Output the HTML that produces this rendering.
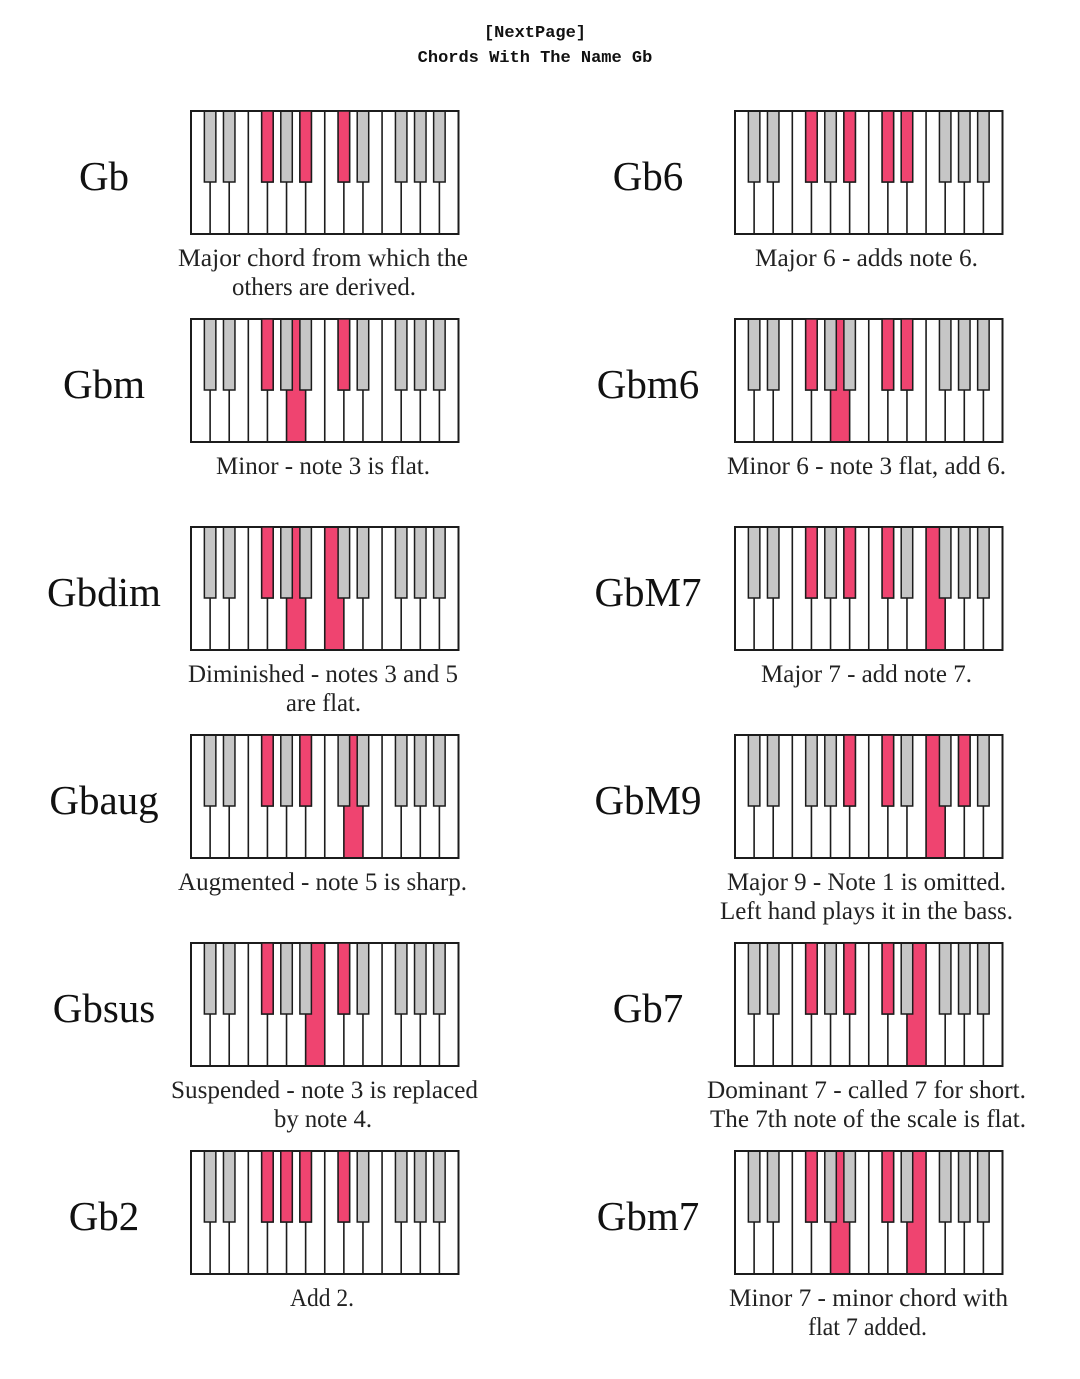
<!DOCTYPE html>
<html><head><meta charset="utf-8"><style>
html,body{margin:0;padding:0;background:#fff;}
svg{display:block;}
.t{font-family:"Liberation Mono",monospace;font-size:17px;fill:#111;font-weight:bold;}
.n{font-family:"Liberation Serif",serif;font-size:41px;fill:#111;}
.d{font-family:"Liberation Serif",serif;font-size:25px;fill:#222;}
</style></head><body>
<svg width="1080" height="1379" viewBox="0 0 1080 1379" xmlns="http://www.w3.org/2000/svg">
<defs>
<g id="kb">
<g stroke="#1c1c1c" stroke-width="1.6">
<line x1="19.11" y1="0" x2="19.11" y2="123"/><line x1="38.21" y1="0" x2="38.21" y2="123"/>
<line x1="57.32" y1="0" x2="57.32" y2="123"/><line x1="76.43" y1="0" x2="76.43" y2="123"/>
<line x1="95.54" y1="0" x2="95.54" y2="123"/><line x1="114.64" y1="0" x2="114.64" y2="123"/>
<line x1="133.75" y1="0" x2="133.75" y2="123"/><line x1="152.86" y1="0" x2="152.86" y2="123"/>
<line x1="171.96" y1="0" x2="171.96" y2="123"/><line x1="191.07" y1="0" x2="191.07" y2="123"/>
<line x1="210.18" y1="0" x2="210.18" y2="123"/><line x1="229.29" y1="0" x2="229.29" y2="123"/>
<line x1="248.39" y1="0" x2="248.39" y2="123"/>
</g>
<g fill="#c6c6c6" stroke="#1c1c1c" stroke-width="1.5">
<rect x="13.36" y="0" width="11.5" height="71"/><rect x="32.46" y="0" width="11.5" height="71"/>
<rect x="70.68" y="0" width="11.5" height="71"/><rect x="89.79" y="0" width="11.5" height="71"/>
<rect x="108.89" y="0" width="11.5" height="71"/><rect x="147.11" y="0" width="11.5" height="71"/>
<rect x="166.21" y="0" width="11.5" height="71"/><rect x="204.43" y="0" width="11.5" height="71"/>
<rect x="223.54" y="0" width="11.5" height="71"/><rect x="242.64" y="0" width="11.5" height="71"/>
</g>
<rect x="0" y="0" width="267.5" height="123" fill="none" stroke="#1c1c1c" stroke-width="2"/>
</g>
<rect id="w5" x="95.54" y="0" width="19.1" height="123"/>
<rect id="w6" x="114.64" y="0" width="19.1" height="123"/>
<rect id="w7" x="133.75" y="0" width="19.1" height="123"/>
<rect id="w8" x="152.86" y="0" width="19.1" height="123"/>
<rect id="w9" x="171.96" y="0" width="19.1" height="123"/>
<rect id="w10" x="191.07" y="0" width="19.1" height="123"/>
<rect id="b4" x="70.68" y="0" width="11.5" height="71"/>
<rect id="b5" x="89.79" y="0" width="11.5" height="71"/>
<rect id="b6" x="108.89" y="0" width="11.5" height="71"/>
<rect id="b8" x="147.11" y="0" width="11.5" height="71"/>
<rect id="b9" x="166.21" y="0" width="11.5" height="71"/>
<rect id="b12" x="223.54" y="0" width="11.5" height="71"/>
</defs>

<text class="t" x="535" y="37" text-anchor="middle">[NextPage]</text>
<text class="t" x="535" y="62" text-anchor="middle">Chords With The Name Gb</text>

<!-- LEFT COLUMN -->
<g transform="translate(191,111)">
<rect width="267.5" height="123" fill="#fff"/>
<use href="#kb"/>
<g fill="#ef4470" stroke="#1c1c1c" stroke-width="1.5"><use href="#b4"/><use href="#b6"/><use href="#b8"/></g>
</g>
<text class="n" x="104" y="190" text-anchor="middle">Gb</text>
<text class="d" x="178" y="266" textLength="290" lengthAdjust="spacingAndGlyphs">Major chord from which the</text>
<text class="d" x="232" y="295" textLength="184" lengthAdjust="spacingAndGlyphs">others are derived.</text>

<g transform="translate(191,319)">
<rect width="267.5" height="123" fill="#fff"/>
<g fill="#ef4470"><use href="#w5"/></g>
<use href="#kb"/>
<g fill="#ef4470" stroke="#1c1c1c" stroke-width="1.5"><use href="#b4"/><use href="#b8"/></g>
</g>
<text class="n" x="104" y="398" text-anchor="middle">Gbm</text>
<text class="d" x="216" y="474" textLength="214" lengthAdjust="spacingAndGlyphs">Minor - note 3 is flat.</text>

<g transform="translate(191,527)">
<rect width="267.5" height="123" fill="#fff"/>
<g fill="#ef4470"><use href="#w5"/><use href="#w7"/></g>
<use href="#kb"/>
<g fill="#ef4470" stroke="#1c1c1c" stroke-width="1.5"><use href="#b4"/></g>
</g>
<text class="n" x="104" y="606" text-anchor="middle">Gbdim</text>
<text class="d" x="188" y="682" textLength="270" lengthAdjust="spacingAndGlyphs">Diminished - notes 3 and 5</text>
<text class="d" x="286" y="711" textLength="75" lengthAdjust="spacingAndGlyphs">are flat.</text>

<g transform="translate(191,735)">
<rect width="267.5" height="123" fill="#fff"/>
<g fill="#ef4470"><use href="#w8"/></g>
<use href="#kb"/>
<g fill="#ef4470" stroke="#1c1c1c" stroke-width="1.5"><use href="#b4"/><use href="#b6"/></g>
</g>
<text class="n" x="104" y="814" text-anchor="middle">Gbaug</text>
<text class="d" x="178" y="890" textLength="289" lengthAdjust="spacingAndGlyphs">Augmented - note 5 is sharp.</text>

<g transform="translate(191,943)">
<rect width="267.5" height="123" fill="#fff"/>
<g fill="#ef4470"><use href="#w6"/></g>
<use href="#kb"/>
<g fill="#ef4470" stroke="#1c1c1c" stroke-width="1.5"><use href="#b4"/><use href="#b8"/></g>
</g>
<text class="n" x="104" y="1022" text-anchor="middle">Gbsus</text>
<text class="d" x="171" y="1098" textLength="307" lengthAdjust="spacingAndGlyphs">Suspended - note 3 is replaced</text>
<text class="d" x="274" y="1127" textLength="98" lengthAdjust="spacingAndGlyphs">by note 4.</text>

<g transform="translate(191,1151)">
<rect width="267.5" height="123" fill="#fff"/>
<use href="#kb"/>
<g fill="#ef4470" stroke="#1c1c1c" stroke-width="1.5"><use href="#b4"/><use href="#b5"/><use href="#b6"/><use href="#b8"/></g>
</g>
<text class="n" x="104" y="1230" text-anchor="middle">Gb2</text>
<text class="d" x="290" y="1306" textLength="64" lengthAdjust="spacingAndGlyphs">Add 2.</text>

<!-- RIGHT COLUMN -->
<g transform="translate(735,111)">
<rect width="267.5" height="123" fill="#fff"/>
<use href="#kb"/>
<g fill="#ef4470" stroke="#1c1c1c" stroke-width="1.5"><use href="#b4"/><use href="#b6"/><use href="#b8"/><use href="#b9"/></g>
</g>
<text class="n" x="648" y="190" text-anchor="middle">Gb6</text>
<text class="d" x="755" y="266" textLength="223" lengthAdjust="spacingAndGlyphs">Major 6 - adds note 6.</text>

<g transform="translate(735,319)">
<rect width="267.5" height="123" fill="#fff"/>
<g fill="#ef4470"><use href="#w5"/></g>
<use href="#kb"/>
<g fill="#ef4470" stroke="#1c1c1c" stroke-width="1.5"><use href="#b4"/><use href="#b8"/><use href="#b9"/></g>
</g>
<text class="n" x="648" y="398" text-anchor="middle">Gbm6</text>
<text class="d" x="727" y="474" textLength="279" lengthAdjust="spacingAndGlyphs">Minor 6 - note 3 flat, add 6.</text>

<g transform="translate(735,527)">
<rect width="267.5" height="123" fill="#fff"/>
<g fill="#ef4470"><use href="#w10"/></g>
<use href="#kb"/>
<g fill="#ef4470" stroke="#1c1c1c" stroke-width="1.5"><use href="#b4"/><use href="#b6"/><use href="#b8"/></g>
</g>
<text class="n" x="648" y="606" text-anchor="middle">GbM7</text>
<text class="d" x="761" y="682" textLength="211" lengthAdjust="spacingAndGlyphs">Major 7 - add note 7.</text>

<g transform="translate(735,735)">
<rect width="267.5" height="123" fill="#fff"/>
<g fill="#ef4470"><use href="#w10"/></g>
<use href="#kb"/>
<g fill="#ef4470" stroke="#1c1c1c" stroke-width="1.5"><use href="#b6"/><use href="#b8"/><use href="#b12"/></g>
</g>
<text class="n" x="648" y="814" text-anchor="middle">GbM9</text>
<text class="d" x="727" y="890" textLength="279" lengthAdjust="spacingAndGlyphs">Major 9 - Note 1 is omitted.</text>
<text class="d" x="720" y="919" textLength="293" lengthAdjust="spacingAndGlyphs">Left hand plays it in the bass.</text>

<g transform="translate(735,943)">
<rect width="267.5" height="123" fill="#fff"/>
<g fill="#ef4470"><use href="#w9"/></g>
<use href="#kb"/>
<g fill="#ef4470" stroke="#1c1c1c" stroke-width="1.5"><use href="#b4"/><use href="#b6"/><use href="#b8"/></g>
</g>
<text class="n" x="648" y="1022" text-anchor="middle">Gb7</text>
<text class="d" x="707" y="1098" textLength="319" lengthAdjust="spacingAndGlyphs">Dominant 7 - called 7 for short.</text>
<text class="d" x="710" y="1127" textLength="316" lengthAdjust="spacingAndGlyphs">The 7th note of the scale is flat.</text>

<g transform="translate(735,1151)">
<rect width="267.5" height="123" fill="#fff"/>
<g fill="#ef4470"><use href="#w5"/><use href="#w9"/></g>
<use href="#kb"/>
<g fill="#ef4470" stroke="#1c1c1c" stroke-width="1.5"><use href="#b4"/><use href="#b8"/></g>
</g>
<text class="n" x="648" y="1230" text-anchor="middle">Gbm7</text>
<text class="d" x="729" y="1306" textLength="279" lengthAdjust="spacingAndGlyphs">Minor 7 - minor chord with</text>
<text class="d" x="808" y="1335" textLength="119" lengthAdjust="spacingAndGlyphs">flat 7 added.</text>
</svg>
</body></html>
